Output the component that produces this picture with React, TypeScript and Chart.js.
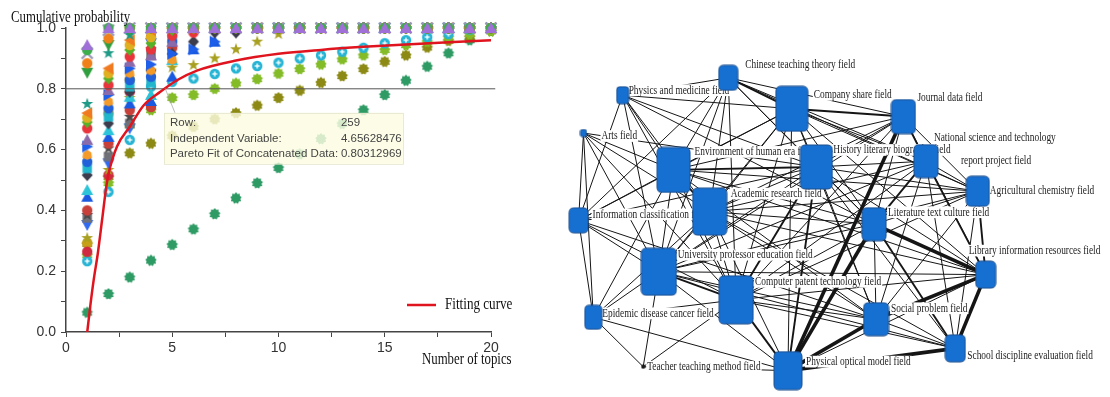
import React, { useEffect, useRef } from 'react';
import { Chart, registerables } from 'chart.js';

Chart.register(...registerables);

// ---------------- Left panel data ----------------
const topicCounts = [1, 2, 3, 4, 5, 6, 7, 8, 9, 10, 11, 12, 13, 14, 15, 16, 17, 18, 19, 20];

const purpleTri = [0.944, 1, 1, 1, 1, 1, 1, 1, 1, 1, 1, 1, 1, 1, 1, 1, 1, 1, 1, 1];
const greenDot = [0.928, 1, 1, 1, 1, 1, 1, 1, 1, 1, 1, 1, 1, 1, 1, 1, 1, 1, 1, 1];
const greyCross = [0.917, 0.993, 1, 1, 1, 1, 1, 1, 1, 1, 1, 1, 1, 1, 1, 1, 1, 1, 1, 1];
const orangeDot = [0.884, 0.966, 1, 1, 1, 1, 1, 1, 1, 1, 1, 1, 1, 1, 1, 1, 1, 1, 1, 1];
const greenTriDown = [0.853, 0.944, 0.993, 1, 1, 1, 1, 1, 1, 1, 1, 1, 1, 1, 1, 1, 1, 1, 1, 1];
const tealStar = [0.75, 0.917, 0.977, 1, 1, 1, 1, 1, 1, 1, 1, 1, 1, 1, 1, 1, 1, 1, 1, 1];
const orangeTriLeft = [0.72, 0.867, 0.96, 0.993, 1, 1, 1, 1, 1, 1, 1, 1, 1, 1, 1, 1, 1, 1, 1, 1];
const yellowDot = [0.705, 0.851, 0.944, 0.97, 1, 1, 1, 1, 1, 1, 1, 1, 1, 1, 1, 1, 1, 1, 1, 1];
const greenDiamond = [0.69, 0.834, 0.928, 0.95, 0.993, 1, 1, 1, 1, 1, 1, 1, 1, 1, 1, 1, 1, 1, 1, 1];
const redDot = [0.67, 0.812, 0.906, 0.93, 0.975, 0.985, 1, 1, 1, 1, 1, 1, 1, 1, 1, 1, 1, 1, 1, 1];
const violetTri = [0.632, 0.796, 0.889, 0.91, 0.955, 1, 1, 1, 1, 1, 1, 1, 1, 1, 1, 1, 1, 1, 1, 1];
const blueTriRight = [0.61, 0.78, 0.867, 0.88, 0.915, 0.93, 0.955, 1, 1, 1, 1, 1, 1, 1, 1, 1, 1, 1, 1, 1];
const orangeHex = [0.582, 0.758, 0.851, 0.86, 0.895, 1, 1, 1, 1, 1, 1, 1, 1, 1, 1, 1, 1, 1, 1, 1];
const blueDot = [0.56, 0.736, 0.829, 0.84, 0.955, 1, 1, 1, 1, 1, 1, 1, 1, 1, 1, 1, 1, 1, 1, 1];
const cyanSquare = [0.538, 0.708, 0.807, 0.82, 0.975, 1, 1, 1, 1, 1, 1, 1, 1, 1, 1, 1, 1, 1, 1, 1];
const darkDiamond = [0.516, 0.686, 0.79, 0.86, 0.915, 0.955, 0.985, 0.985, 1, 1, 1, 1, 1, 1, 1, 1, 1, 1, 1, 1];
const cyanTri = [0.467, 0.664, 0.774, 0.78, 0.895, 1, 1, 1, 1, 1, 1, 1, 1, 1, 1, 1, 1, 1, 1, 1];
const blueTri = [0.445, 0.642, 0.752, 0.76, 0.84, 0.93, 0.955, 1, 1, 1, 1, 1, 1, 1, 1, 1, 1, 1, 1, 1];
const brownDot = [0.4, 0.62, 0.73, 0.74, 0.935, 1, 1, 1, 1, 1, 1, 1, 1, 1, 1, 1, 1, 1, 1, 1];
const darkStar = [0.385, 0.604, 0.708, 0.93, 1, 1, 1, 1, 1, 1, 1, 1, 1, 1, 1, 1, 1, 1, 1, 1];
const greySquare = [0.375, 0.577, 0.686, 0.91, 1, 1, 1, 1, 1, 1, 1, 1, 1, 1, 1, 1, 1, 1, 1, 1];
const royalTri = [0.352, 0.555, 0.67, 0.95, 1, 1, 1, 1, 1, 1, 1, 1, 1, 1, 1, 1, 1, 1, 1, 1];
const oliveStar = [0.309, 0.533, 0.77, 0.86, 0.87, 0.878, 0.9, 0.93, 0.955, 0.98, 1, 1, 1, 1, 1, 1, 1, 1, 1, 1];
const crimsonDot = [0.264, 0.516, 0.79, 0.97, 1, 1, 1, 1, 1, 1, 1, 1, 1, 1, 1, 1, 1, 1, 1, 1];
const goldDot = [0.293, 0.72, 0.83, 0.99, 1, 1, 1, 1, 1, 1, 1, 1, 1, 1, 1, 1, 1, 1, 1, 1];
const cyanRing = [0.233, 0.461, 0.632, 0.807, 0.823, 0.834, 0.849, 0.867, 0.875, 0.886, 0.9, 0.91, 0.922, 0.935, 0.95, 0.96, 0.97, 0.98, 0.995, 1];
const limeGear = [0.253, 0.49, 0.68, 0.73, 0.77, 0.78, 0.8, 0.818, 0.832, 0.85, 0.865, 0.88, 0.897, 0.91, 0.928, 0.944, 0.955, 0.97, 0.98, 0.99];
const oliveGear = [0.29, 0.51, 0.588, 0.62, 0.645, 0.675, 0.7, 0.72, 0.745, 0.77, 0.794, 0.82, 0.842, 0.865, 0.889, 0.91, 0.936, 0.958, 0.97, 0.99];
const seaGear = [0.064, 0.125, 0.18, 0.235, 0.287, 0.338, 0.388, 0.44, 0.49, 0.54, 0.585, 0.635, 0.685, 0.73, 0.78, 0.827, 0.873, 0.917, 0.96, 0.99];

// Pareto fitting curve
const fitX = [1, 1.15, 1.3, 1.5, 1.7, 1.9, 2.0, 2.4, 3.0, 3.65, 4.44, 5.22, 6.16, 8, 10, 12, 14, 16, 18, 20];
const fitY = [0, 0.09, 0.17, 0.26, 0.37, 0.48, 0.52, 0.61, 0.675, 0.745, 0.79, 0.828, 0.86, 0.893, 0.915, 0.928, 0.938, 0.946, 0.953, 0.96];

const refLevel = 0.8;
const tipRow = 259;
const tipX = 4.65628476;
const tipY = 0.80312969;
const tipLabels = ['Row:', 'Independent Variable:', 'Pareto Fit of Concatenated Data:'];
const yTitle = 'Cumulative probability';
const xTitle = 'Number of topics';
const legendLabel = 'Fitting curve';

const seriesSpecs: [number[], string, string][] = [
  [purpleTri, '#a070d8', 'triUp'],
  [greenDot, '#3cae4c', 'circle'],
  [greyCross, '#9a98b8', 'x'],
  [orangeDot, '#f0801a', 'circle'],
  [greenTriDown, '#2e9e3e', 'triDown'],
  [tealStar, '#1f9a86', 'star'],
  [orangeTriLeft, '#f07a20', 'triLeft'],
  [yellowDot, '#e0b020', 'circle'],
  [greenDiamond, '#55b02a', 'diamond'],
  [redDot, '#e8343a', 'circle'],
  [violetTri, '#8a6aa8', 'triUp'],
  [blueTriRight, '#1e5ee8', 'triRight'],
  [orangeHex, '#f39a28', 'hex'],
  [blueDot, '#2060d8', 'circle'],
  [cyanSquare, '#22b6cc', 'square'],
  [darkDiamond, '#3c3c4c', 'diamond'],
  [cyanTri, '#2cc4d8', 'triUp'],
  [blueTri, '#1a5ae0', 'triUp'],
  [brownDot, '#c8403a', 'circle'],
  [darkStar, '#4a4a4a', 'star'],
  [greySquare, '#707078', 'square'],
  [royalTri, '#2f6af0', 'triDown'],
  [oliveStar, '#a8a020', 'star'],
  [crimsonDot, '#d02a40', 'circle'],
  [goldDot, '#c8a018', 'circle'],
  [cyanRing, '#26b4d4', 'ring'],
  [limeGear, '#84bc28', 'gear'],
  [oliveGear, '#8c8a14', 'gear'],
  [seaGear, '#2e9a64', 'gear'],
];

// ---------------- Right panel data ----------------
const nodeNames = [
  'Chinese teaching theory field',
  'Physics and medicine field',
  'Arts field',
  'Company share field',
  'Journal data field',
  'National science and technology',
  'Agricultural chemistry field',
  'History literary biography field',
  'Environment of human era field',
  'Academic research field',
  'Information classification field',
  'Literature text culture field',
  'University professor education field',
  'Computer patent technology field',
  'Library information resources field',
  'Epidemic disease cancer field',
  'Social problem field',
  'School discipline evaluation field',
  'Physical optical model field',
  'Teacher teaching method field',
];
const nationalSecondLine = 'report project field';
const nodeX = [30.8, 11.35, 4.14, 42.5, 63.06, 67.2, 76.76, 47.03, 20.72, 27.39, 3.24, 57.66, 18.02, 32.25, 78.2, 5.95, 58.02, 72.61, 41.8, 15.14];
const nodeY = [81.36, 76.83, 67.0, 73.3, 71.28, 59.7, 51.89, 58.19, 57.43, 46.6, 44.33, 43.32, 30.98, 23.68, 30.23, 19.14, 18.64, 11.08, 5.29, 6.3];
const nodeWidth = [19, 12, 6, 32, 24, 24, 23, 32, 33, 34, 19, 24, 35, 34, 20, 17, 25, 20, 28, 3];
const nodeHeight = [25, 17, 7, 45, 34, 33, 30, 44, 45, 47, 25, 33, 47, 48, 27, 24, 33, 27, 38, 3];
const labelDX = [17, 6, 18, 22, 14, 8, 12, 17, 21, 21, 14, 14, 19, 19, -17, 9, 15, 12, 18, 4];
const labelDY = [-13, -5, 3, -14, -19, -24, -1, -17, -18, -18, -6, -12, -17, -18, -24, -4, -11, 7, -9, 0];

// [from, to, weight]
const edges: [number, number, number][] = [
  [0, 3, 2], [0, 4, 1], [0, 7, 1], [0, 8, 1], [0, 9, 1], [0, 12, 1], [0, 10, 1], [0, 11, 1], [0, 13, 1], [0, 6, 1], [0, 5, 1], [0, 1, 1],
  [1, 8, 1], [1, 9, 1], [1, 12, 1], [1, 10, 1], [1, 7, 1], [1, 3, 1], [1, 13, 1], [1, 11, 1],
  [2, 9, 1], [2, 12, 1], [2, 13, 1], [2, 8, 1], [2, 15, 1], [2, 7, 1], [2, 10, 1],
  [3, 4, 2], [3, 5, 1], [3, 7, 1], [3, 8, 1], [3, 9, 1], [3, 12, 1], [3, 13, 1], [3, 11, 1], [3, 6, 1], [3, 14, 1], [3, 16, 1], [3, 18, 1], [3, 10, 1],
  [4, 5, 2], [4, 7, 1], [4, 11, 1], [4, 9, 1], [4, 13, 1], [4, 6, 1], [4, 8, 1], [4, 12, 1], [4, 14, 1], [4, 18, 3],
  [5, 6, 1], [5, 7, 1], [5, 11, 2], [5, 14, 2], [5, 16, 1], [5, 9, 1], [5, 13, 1], [5, 12, 1], [5, 17, 1],
  [6, 7, 1], [6, 11, 1], [6, 12, 1], [6, 13, 1], [6, 14, 2], [6, 16, 1], [6, 9, 1], [6, 17, 1], [6, 8, 1],
  [7, 8, 2], [7, 9, 1], [7, 11, 1], [7, 12, 1], [7, 13, 2], [7, 14, 1], [7, 16, 1], [7, 18, 2], [7, 10, 1], [7, 17, 1],
  [8, 9, 2], [8, 10, 1], [8, 12, 1], [8, 13, 1], [8, 11, 1], [8, 14, 1], [8, 15, 1], [8, 16, 1],
  [9, 10, 1], [9, 11, 1], [9, 12, 1], [9, 13, 1], [9, 14, 1], [9, 16, 1], [9, 18, 1], [9, 15, 1], [9, 17, 1],
  [10, 12, 1], [10, 13, 1], [10, 15, 1], [10, 16, 1],
  [11, 12, 1], [11, 13, 1], [11, 14, 3], [11, 16, 1], [11, 17, 2], [11, 18, 3],
  [12, 13, 2], [12, 15, 1], [12, 19, 1], [12, 14, 1], [12, 16, 1], [12, 18, 1], [12, 17, 1],
  [13, 14, 1], [13, 16, 1], [13, 17, 1], [13, 18, 2], [13, 15, 1], [13, 19, 1],
  [14, 16, 3], [14, 17, 3], [14, 18, 1],
  [15, 19, 1], [15, 18, 1],
  [16, 17, 1], [16, 18, 3],
  [17, 18, 3],
  [19, 18, 1],
];

// ---------------- helpers ----------------
function makeMarker(shape: string, color: string, r = 5.5): HTMLCanvasElement {
  const s = Math.ceil(r * 2 + 3);
  const c = document.createElement('canvas');
  c.width = s;
  c.height = s;
  const ctx = c.getContext('2d') as CanvasRenderingContext2D;
  const cx = s / 2;
  const cy = s / 2;
  ctx.fillStyle = color;
  ctx.strokeStyle = color;
  const poly = (pts: number[][]) => {
    ctx.beginPath();
    pts.forEach(([x, y], i) => (i ? ctx.lineTo(cx + x, cy + y) : ctx.moveTo(cx + x, cy + y)));
    ctx.closePath();
    ctx.fill();
  };
  const starPoly = (n: number, ro: number, ri: number, rot = -Math.PI / 2) => {
    const pts: number[][] = [];
    for (let i = 0; i < 2 * n; i++) {
      const a = rot + (i * Math.PI) / n;
      const rr = i % 2 ? ri : ro;
      pts.push([rr * Math.cos(a), rr * Math.sin(a)]);
    }
    poly(pts);
  };
  switch (shape) {
    case 'circle':
      ctx.beginPath();
      ctx.arc(cx, cy, r - 0.3, 0, Math.PI * 2);
      ctx.fill();
      break;
    case 'ring':
      ctx.beginPath();
      ctx.arc(cx, cy, r - 0.3, 0, Math.PI * 2);
      ctx.fill();
      ctx.fillStyle = 'rgba(255,255,255,0.85)';
      ctx.fillRect(cx - 2.5, cy - 0.8, 5, 1.6);
      ctx.fillRect(cx - 0.8, cy - 2.5, 1.6, 5);
      break;
    case 'triUp':
      poly([[0, -r - 0.5], [r + 0.5, r - 0.5], [-r - 0.5, r - 0.5]]);
      break;
    case 'triDown':
      poly([[0, r + 0.5], [r + 0.5, -r + 0.5], [-r - 0.5, -r + 0.5]]);
      break;
    case 'triLeft':
      poly([[-r - 0.5, 0], [r - 0.5, -r - 0.5], [r - 0.5, r + 0.5]]);
      break;
    case 'triRight':
      poly([[r + 0.5, 0], [-r + 0.5, -r - 0.5], [-r + 0.5, r + 0.5]]);
      break;
    case 'diamond':
      poly([[0, -r - 0.5], [r, 0], [0, r + 0.5], [-r, 0]]);
      break;
    case 'square':
      ctx.fillRect(cx - r + 0.8, cy - r + 0.8, 2 * r - 1.6, 2 * r - 1.6);
      break;
    case 'hex':
      starPoly(3, r, r * 0.87, -Math.PI / 2);
      break;
    case 'star':
      starPoly(5, r + 0.8, r * 0.45);
      break;
    case 'gear':
      starPoly(9, r + 0.4, r * 0.8);
      break;
    case 'x':
      ctx.lineWidth = 2.4;
      ctx.beginPath();
      ctx.moveTo(cx - r, cy - r);
      ctx.lineTo(cx + r, cy + r);
      ctx.moveTo(cx + r, cy - r);
      ctx.lineTo(cx - r, cy + r);
      ctx.stroke();
      break;
  }
  return c;
}

function makeNode(w: number, h: number, dark: boolean): HTMLCanvasElement {
  const c = document.createElement('canvas');
  c.width = w + 2;
  c.height = h + 2;
  const ctx = c.getContext('2d') as CanvasRenderingContext2D;
  const x = 1, y = 1;
  const rad = Math.min(5, Math.min(w, h) / 4);
  ctx.beginPath();
  ctx.moveTo(x + rad, y);
  ctx.lineTo(x + w - rad, y);
  ctx.quadraticCurveTo(x + w, y, x + w, y + rad);
  ctx.lineTo(x + w, y + h - rad);
  ctx.quadraticCurveTo(x + w, y + h, x + w - rad, y + h);
  ctx.lineTo(x + rad, y + h);
  ctx.quadraticCurveTo(x, y + h, x, y + h - rad);
  ctx.lineTo(x, y + rad);
  ctx.quadraticCurveTo(x, y, x + rad, y);
  ctx.closePath();
  ctx.fillStyle = dark ? '#222' : '#1670d2';
  ctx.fill();
  ctx.lineWidth = 1;
  ctx.strokeStyle = dark ? '#111' : '#1d4f8e';
  ctx.stroke();
  return c;
}

const SERIF = '"Liberation Serif", "Times New Roman", serif';
const SANS = '"Liberation Sans", Arial, sans-serif';

function drawSqueezed(ctx: CanvasRenderingContext2D, text: string, x: number, y: number, size: number, sx: number, color: string, bg = false) {
  ctx.save();
  ctx.font = `${size}px ${SERIF}`;
  ctx.textBaseline = 'middle';
  ctx.textAlign = 'left';
  if (bg) {
    const w = ctx.measureText(text).width * sx;
    ctx.fillStyle = '#ffffff';
    ctx.fillRect(x - 1, y - size * 0.45, w + 2, size * 0.9);
  }
  ctx.translate(x, y);
  ctx.scale(sx, 1);
  ctx.fillStyle = color;
  ctx.fillText(text, 0, 0);
  ctx.restore();
}

// ---------------- Left chart ----------------
function LeftChart() {
  const ref = useRef<HTMLCanvasElement | null>(null);
  useEffect(() => {
    const canvas = ref.current;
    if (!canvas) return;
    const markerSets = seriesSpecs.map(([vals, color, shape], i) => ({
      label: 's' + i,
      data: topicCounts.map((x, k) => ({ x, y: vals[k] })),
      pointStyle: makeMarker(shape, color),
      pointRadius: 5,
      showLine: false,
      clip: false,
      order: 2,
    }));
    const overlay = {
      id: 'leftOverlay',
      afterDatasetsDraw(chart: any) {
        const ctx: CanvasRenderingContext2D = chart.ctx;
        const xs = chart.scales.x;
        const ys = chart.scales.y;
        const area = chart.chartArea;
        const px = xs.getPixelForValue(tipX);
        const py = ys.getPixelForValue(tipY);
        const bx = px - 1;
        const by = py + 25;
        const bw = 239;
        const bh = 51;
        ctx.save();
        ctx.strokeStyle = 'rgba(150,150,150,0.8)';
        ctx.lineWidth = 0.8;
        ctx.beginPath();
        ctx.moveTo(px, py);
        ctx.lineTo(px + 10, by);
        ctx.stroke();
        ctx.fillStyle = 'rgba(253,253,226,0.82)';
        ctx.fillRect(bx, by, bw, bh);
        ctx.strokeStyle = 'rgba(225,225,200,0.9)';
        ctx.strokeRect(bx + 0.5, by + 0.5, bw, bh);
        ctx.font = `11.5px ${SANS}`;
        ctx.fillStyle = '#444';
        ctx.textBaseline = 'middle';
        ctx.textAlign = 'left';
        const vals = [String(tipRow), tipX.toFixed(8), tipY.toFixed(8)];
        tipLabels.forEach((t, i) => {
          const ty = by + 10 + i * 15.5;
          ctx.fillText(t, bx + 6, ty);
          ctx.fillText(vals[i], bx + 177, ty);
        });
        ctx.restore();
        drawSqueezed(ctx, yTitle, 11, 18, 16, 0.8, '#111');
        drawSqueezed(ctx, xTitle, area.right - 69, 360, 16, 0.8, '#111');
        ctx.save();
        ctx.strokeStyle = '#e0141e';
        ctx.lineWidth = 2.5;
        ctx.beginPath();
        ctx.moveTo(area.right - 84, 305);
        ctx.lineTo(area.right - 55, 305);
        ctx.stroke();
        ctx.restore();
        drawSqueezed(ctx, legendLabel, area.right - 46, 305, 16, 0.82, '#111');
      },
    };
    const chart = new Chart(canvas, {
      type: 'scatter',
      data: {
        datasets: [
          {
            label: legendLabel,
            data: fitX.map((x, i) => ({ x, y: fitY[i] })),
            showLine: true,
            borderColor: '#e0141e',
            borderWidth: 2.5,
            pointRadius: 0,
            cubicInterpolationMode: 'monotone',
            order: 0,
          } as any,
          {
            label: 'ref',
            data: [{ x: 0, y: refLevel }, { x: 20.2, y: refLevel }],
            showLine: true,
            borderColor: '#555',
            borderWidth: 1,
            pointRadius: 0,
            clip: false,
            order: 1,
          } as any,
          ...(markerSets as any[]),
        ],
      },
      options: {
        responsive: false,
        animation: false,
        events: [],
        layout: { padding: { top: 28, right: 64, left: 0, bottom: 0 } },
        plugins: { legend: { display: false }, tooltip: { enabled: false } },
        scales: {
          x: {
            type: 'linear',
            min: 0,
            max: 20,
            afterFit: (s: any) => { s.height = 65; },
            ticks: {
              stepSize: 2.5,
              autoSkip: false,
              maxRotation: 0,
              color: '#333',
              padding: 3,
              font: { family: SANS, size: 14 },
              callback: (v: any) => (Math.abs(v % 5) < 1e-6 ? String(v) : ''),
            },
            grid: { drawOnChartArea: false, drawTicks: true, tickLength: 5, tickColor: '#444' },
            border: { display: true, color: '#444', width: 1.5 },
          },
          y: {
            type: 'linear',
            min: 0,
            max: 1,
            afterFit: (s: any) => { s.width = 66; },
            ticks: {
              stepSize: 0.1,
              autoSkip: false,
              color: '#333',
              padding: 5,
              font: { family: SANS, size: 14 },
              callback: (v: any) => (Math.round(v * 10) % 2 === 0 ? Number(v).toFixed(1) : ''),
            },
            grid: { drawOnChartArea: false, drawTicks: true, tickLength: 5, tickColor: '#444' },
            border: { display: true, color: '#444', width: 1.5 },
          },
        },
      } as any,
      plugins: [overlay],
    });
    return () => chart.destroy();
  }, []);
  return <canvas ref={ref} width={555} height={397} style={{ display: 'block' }} />;
}

// ---------------- Right chart ----------------
function NetworkChart() {
  const ref = useRef<HTMLCanvasElement | null>(null);
  useEffect(() => {
    const canvas = ref.current;
    if (!canvas) return;
    const nodeImgs = nodeNames.map((_, i) => makeNode(nodeWidth[i], nodeHeight[i], nodeWidth[i] < 5));
    const edgeSets = edges.map(([a, b, w]) => ({
      label: 'e',
      data: [{ x: nodeX[a], y: nodeY[a] }, { x: nodeX[b], y: nodeY[b] }],
      showLine: true,
      borderColor: '#151515',
      borderWidth: w === 3 ? 3.6 : w === 2 ? 1.9 : 1,
      pointRadius: 0,
      order: 1,
    }));
    const labelPlugin = {
      id: 'nodeLabels',
      beforeDatasetDraw(chart: any, args: any) {
        if (args.index !== 0) return;
        const ctx: CanvasRenderingContext2D = chart.ctx;
        const xs = chart.scales.x;
        const ys = chart.scales.y;
        nodeNames.forEach((name, i) => {
          const px = xs.getPixelForValue(nodeX[i]) + labelDX[i];
          const py = ys.getPixelForValue(nodeY[i]) + labelDY[i];
          drawSqueezed(ctx, name, px, py, 13, 0.72, '#1c1c1c', true);
          if (i === 5) {
            drawSqueezed(ctx, nationalSecondLine, px + 27, py + 23, 13, 0.72, '#1c1c1c', true);
          }
        });
      },
    };
    const chart = new Chart(canvas, {
      type: 'scatter',
      data: {
        datasets: [
          {
            label: 'nodes',
            data: nodeNames.map((_, i) => ({ x: nodeX[i], y: nodeY[i] })),
            pointStyle: nodeImgs as any,
            pointRadius: 5,
            order: 0,
          } as any,
          ...(edgeSets as any[]),
        ],
      },
      options: {
        responsive: false,
        animation: false,
        events: [],
        layout: { padding: 0 },
        plugins: { legend: { display: false }, tooltip: { enabled: false } },
        scales: {
          x: { type: 'linear', display: false, min: 0, max: 100 },
          y: { type: 'linear', display: false, min: 0, max: 100 },
        },
      } as any,
      plugins: [labelPlugin],
    });
    return () => chart.destroy();
  }, []);
  return <canvas ref={ref} width={555} height={397} style={{ display: 'block' }} />;
}

export default function App() {
  return (
    <div style={{ position: 'absolute', left: 0, top: 0, width: 1110, height: 397, background: '#fff', overflow: 'hidden' }}>
      <div style={{ position: 'absolute', left: 0, top: 0 }}>
        <LeftChart />
      </div>
      <div style={{ position: 'absolute', left: 555, top: 0 }}>
        <NetworkChart />
      </div>
    </div>
  );
}
